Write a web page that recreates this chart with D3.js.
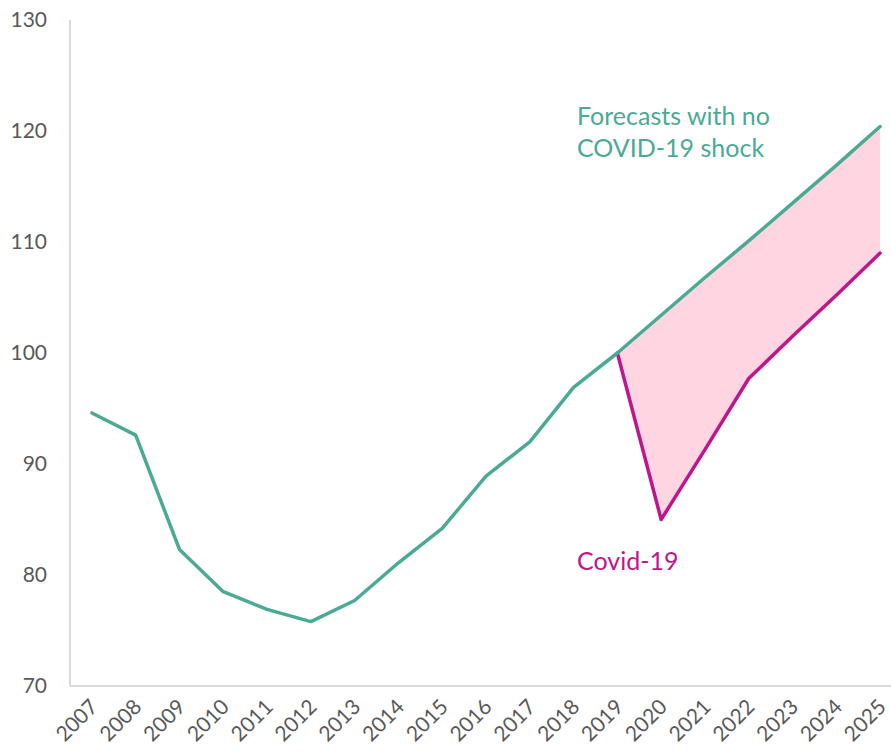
<!DOCTYPE html>
<html>
<head>
<meta charset="utf-8">
<script src="https://d3js.org/d3.v7.min.js"></script>
<style>
  html, body { margin: 0; padding: 0; background: #fff; }
  svg { display: block; }
  text { font-family: Lato, "Noto Sans", sans-serif; }
</style>
</head>
<body>
<svg id="chart" width="891" height="754"></svg>
<script>
// Index values by year
const years = ["2007","2008","2009","2010","2011","2012","2013","2014","2015","2016",
               "2017","2018","2019","2020","2021","2022","2023","2024","2025"];
const historical = [94.6, 92.6, 82.3, 78.5, 76.9, 75.8, 77.7, 81.1, 84.2, 88.9, 92.0, 96.9, 100.0];
const forecastYears = ["2019","2020","2021","2022","2023","2024","2025"];
const noShock = [100.0, 103.4, 106.8, 110.1, 113.5, 116.9, 120.4];
const covid   = [100.0, 85.0, 91.3, 97.7, 101.5, 105.2, 109.0];
const yTicks = [70, 80, 90, 100, 110, 120, 130];

const teal = "#4BAA95", magenta = "#BE168C", pink = "#FFD5E2";
const axisGrey = "#D9D9D9", labelGrey = "#595959";

const svg = d3.select("#chart");
const plotLeft = 70, plotRight = 902, plotTop = 20, plotBottom = 686;

const x = d3.scaleBand().domain(years).range([plotLeft, plotRight]);
const xc = d => x(d) + x.bandwidth() / 2;
const y = d3.scaleLinear().domain([70, 130]).range([plotBottom, plotTop]);

// Y axis: labels only, plus light axis line
const yAxis = svg.append("g").attr("transform", `translate(${plotLeft - 23},0)`)
  .call(d3.axisLeft(y).tickValues(yTicks).tickSize(0).tickPadding(0));
yAxis.select(".domain").remove();
yAxis.selectAll("text").attr("fill", labelGrey).style("font-size", "21px")
  .attr("font-family", "Lato, sans-serif");

svg.append("line").attr("x1", plotLeft).attr("x2", plotLeft).attr("y1", plotTop).attr("y2", plotBottom)
  .attr("stroke", axisGrey).attr("stroke-width", 2);

// X axis: rotated year labels
const xAxis = svg.append("g").attr("transform", `translate(0,${plotBottom})`)
  .call(d3.axisBottom(x).tickSize(0).tickPadding(0));
xAxis.select(".domain").remove();
xAxis.selectAll("text")
  .attr("fill", labelGrey).style("font-size", "21px")
  .attr("font-family", "Lato, sans-serif")
  .attr("text-anchor", "end")
  .attr("dy", "0.35em")
  .attr("transform", "translate(2,17) rotate(-45)")
  .attr("y", 0).attr("x", 0);

svg.append("line").attr("x1", plotLeft).attr("x2", 891).attr("y1", plotBottom).attr("y2", plotBottom)
  .attr("stroke", axisGrey).attr("stroke-width", 2);

// Gap between the two forecast paths
const gap = forecastYears.map((yr, i) => ({ yr, hi: noShock[i], lo: covid[i] }));
svg.append("path").datum(gap)
  .attr("fill", pink)
  .attr("d", d3.area().x(d => xc(d.yr)).y0(d => y(d.lo)).y1(d => y(d.hi)));

const line = d3.line().x(d => xc(d[0])).y(d => y(d[1]));

svg.append("path")
  .datum(forecastYears.map((yr, i) => [yr, covid[i]]))
  .attr("fill", "none").attr("stroke", magenta).attr("stroke-width", 3.5)
  .attr("stroke-linejoin", "round").attr("stroke-linecap", "round")
  .attr("d", line);

const tealSeries = years.slice(0, historical.length).map((yr, i) => [yr, historical[i]])
  .concat(forecastYears.slice(1).map((yr, i) => [yr, noShock[i + 1]]));
svg.append("path")
  .datum(tealSeries)
  .attr("fill", "none").attr("stroke", teal).attr("stroke-width", 3.5)
  .attr("stroke-linejoin", "round").attr("stroke-linecap", "round")
  .attr("d", line);

// Series annotations
const noteFont = "25px";
const n1 = svg.append("text").attr("x", 577).attr("y", 125)
  .attr("fill", teal).style("font-size", noteFont);
n1.append("tspan").attr("x", 577).text("Forecasts with no");
n1.append("tspan").attr("x", 577).attr("dy", 32).text("COVID-19 shock");

svg.append("text").attr("x", 577).attr("y", 570)
  .attr("fill", magenta).style("font-size", noteFont).text("Covid-19");
</script>
</body>
</html>
